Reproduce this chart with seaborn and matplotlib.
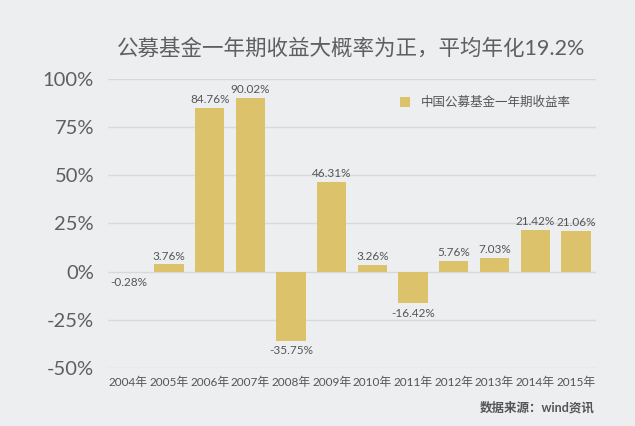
import matplotlib
matplotlib.use("Agg")
import matplotlib.pyplot as plt
import seaborn as sns
import pandas as pd

# --- datos ---
years = ['2004年', '2005年', '2006年', '2007年', '2008年', '2009年',
         '2010年', '2011年', '2012年', '2013年', '2014年', '2015年']
returns = [-0.28, 3.76, 84.76, 90.02, -35.75, 46.31,
           3.26, -16.42, 5.76, 7.03, 21.42, 21.06]
yticks = [-50, -25, 0, 25, 50, 75, 100]
series_name = '中国公募基金一年期收益率'
title = '公募基金一年期收益大概率为正，平均年化19.2%'
source = '数据来源：wind资讯'

BAR = '#dcc26a'
TXT = '#555555'
BG = '#eceef0'
FAM = ['Lato', 'Noto Sans CJK SC', 'DejaVu Sans']

sns.set_theme(style='white')
plt.rcParams['font.family'] = FAM

df = pd.DataFrame({'year': years, 'ret': returns})

fig = plt.figure(figsize=(6.35, 4.26), dpi=100, facecolor=BG)
ax = fig.add_axes([0.170, 0.136, 0.769, 0.679])
ax.set_facecolor(BG)

sns.barplot(data=df, x='year', y='ret', color=BAR, saturation=1,
            width=0.72, ax=ax, label=series_name, zorder=3, linewidth=0)

ax.set_ylim(-50, 100)
ax.set_yticks(yticks)
ax.set_yticklabels([f'{t}%' for t in yticks], fontsize=14.5, color='#5f5f5f')
ax.tick_params(axis='x', labelsize=8.5, colors=TXT, length=0, pad=6)
ax.tick_params(axis='y', length=0, pad=10)
ax.set_xlabel('')
ax.set_ylabel('')
ax.yaxis.grid(True, color='#d8d9db', linewidth=1, zorder=0)
for s in ax.spines.values():
    s.set_visible(False)

for i, v in enumerate(returns):
    off = 1.5 if v >= 0 else -2.5
    va = 'bottom' if v >= 0 else 'top'
    ax.text(i, v + off, f'{v:.2f}%', ha='center', va=va,
            fontsize=8.5, color=TXT, zorder=4)

leg = ax.legend(loc='upper right', bbox_to_anchor=(0.97, 0.98), frameon=False,
                fontsize=9, handlelength=0.8, handleheight=0.8, labelcolor=TXT)

fig.text(0.553, 0.886, title, ha='center', va='center', fontsize=15.5,
         color='#5f5f5f')
fig.text(0.937, 0.045, source, ha='right', va='center', fontsize=9,
         color=TXT, fontweight='bold')

fig.savefig('out.png', dpi=100, facecolor=BG)
